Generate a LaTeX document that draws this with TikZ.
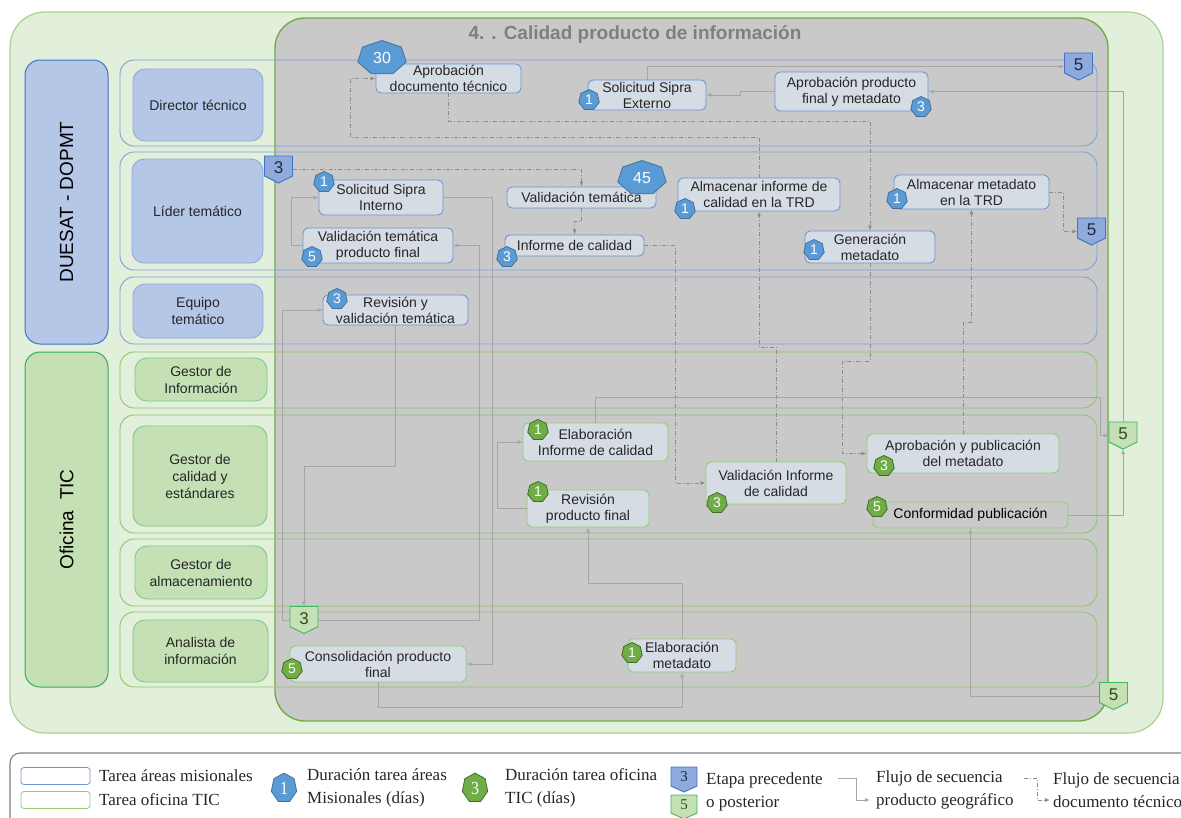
\documentclass[tikz,border=0pt]{standalone}
\usepackage{fontspec}
\usepackage{graphicx}
\setmainfont{Liberation Sans}
\newfontfamily\legendfont{Liberation Serif}
\usetikzlibrary{shapes.geometric,arrows.meta}

\definecolor{outerFill}{HTML}{E2EFDA}
\definecolor{outerLine}{HTML}{A9D18E}
\definecolor{poolFill}{HTML}{C9C9C9}
\definecolor{poolLine}{HTML}{70AD47}
\definecolor{titleGray}{HTML}{7F7F7F}
\definecolor{laneBlue}{HTML}{7F9FD8}
\definecolor{laneGreen}{HTML}{8DC66B}
\definecolor{groupBlueFill}{HTML}{B4C7E7}
\definecolor{groupBlueLine}{HTML}{4472C4}
\definecolor{groupGreenFill}{HTML}{C5E0B4}
\definecolor{groupGreenLine}{HTML}{2EAF5A}
\definecolor{roleBlueLine}{HTML}{8FAADC}
\definecolor{roleGreenLine}{HTML}{7DCB8A}
\definecolor{taskFill}{HTML}{D6DCE4}
\definecolor{taskBlue}{HTML}{6F93D3}
\definecolor{taskGreen}{HTML}{92CC72}
\definecolor{txtDark}{HTML}{262626}
\definecolor{badgeBlue}{HTML}{5B9BD5}
\definecolor{badgeBlueLine}{HTML}{41719C}
\definecolor{badgeGreen}{HTML}{70AD47}
\definecolor{badgeGreenLine}{HTML}{3F6F27}
\definecolor{stBfill}{HTML}{8FAADC}
\definecolor{stBline}{HTML}{4472C4}
\definecolor{stBtext}{HTML}{1F2A44}
\definecolor{stGfill}{HTML}{C5E0B4}
\definecolor{stGline}{HTML}{3CB85F}
\definecolor{stGtext}{HTML}{2E4A1E}
\definecolor{flowGray}{HTML}{A6A6A6}
\definecolor{docGray}{HTML}{8C8C8C}
\definecolor{legendLine}{HTML}{808080}

% stage marker: box with a pointed bottom; #1 name, #2 x, #3 y, #4 label, #5 colour prefix
\newcommand\stagemark[5]{%
  \filldraw[fill=#5fill, draw=#5line, line width=0.9pt]
    (#2,#3) ++(-14,-13.5) -- ++(28,0) -- ++(0,20) -- ++(-14,7) -- ++(-14,-7) -- cycle;
  \node[minimum width=28pt, minimum height=27pt, text=#5text,
        font=\fontsize{17}{17}\selectfont] (#1) at (#2,#3) {\raisebox{3.5pt}{#4}};
}

\begin{document}
\begin{tikzpicture}[x=1pt,y=-1pt,
  every node/.style={inner sep=0pt},
  task/.style={draw=taskBlue, fill=taskFill, rounded corners=5pt, align=center,
    font=\fontsize{14}{16}\selectfont, text=txtDark, line width=0.9pt},
  taskg/.style={task, draw=taskGreen},
  role/.style={draw=roleBlueLine, fill=groupBlueFill, rounded corners=12pt, align=center,
    font=\fontsize{14}{17}\selectfont, text=txtDark, line width=0.9pt},
  roleg/.style={role, draw=roleGreenLine, fill=groupGreenFill},
  badge/.style={regular polygon, regular polygon sides=7, minimum size=21pt,
    text=white, font=\fontsize{14}{14}\selectfont, line width=0.8pt},
  bb/.style={badge, fill=badgeBlue, draw=badgeBlueLine},
  bg/.style={badge, fill=badgeGreen, draw=badgeGreenLine},
  bigb/.style={bb, minimum size=35pt, xscale=1.42, font=\fontsize{16}{16}\selectfont},
  lane/.style={draw=laneBlue, line width=0.9pt, rounded corners=14pt},
  laneg/.style={lane, draw=laneGreen},
  flow/.style={draw=flowGray, line width=0.8pt, -{Latex[length=5pt,width=4pt]}},
  doc/.style={draw=docGray, line width=0.8pt, dash pattern=on 4pt off 2pt on 1pt off 2pt,
    -{Latex[length=5pt,width=4pt]}},
  legtext/.style={anchor=west, align=left, font=\legendfont\fontsize{17}{23}\selectfont, text=txtDark}
]
\useasboundingbox (0,0) rectangle (1181,817);

% background containers
\filldraw[fill=outerFill, draw=outerLine, line width=1.2pt, rounded corners=35pt]
  (10,12) rectangle (1163,733);
\filldraw[fill=poolFill, draw=poolLine, line width=1.4pt, rounded corners=30pt]
  (275,18) rectangle (1108,721);
\node[font=\bfseries\fontsize{19}{19}\selectfont, text=titleGray] (title) at (635,35)
  {4. . Calidad producto de información};

% organisational groups
\node[draw=groupBlueLine, fill=groupBlueFill, rounded corners=15pt, line width=1pt,
  minimum width=83pt, minimum height=284pt] (gDue) at (66.5,202) {};
\node[rotate=90, font=\fontsize{19}{19}\selectfont, text=black] (gDueT) at (66.5,202) {DUESAT - DOPMT};
\node[draw=groupGreenLine, fill=groupGreenFill, rounded corners=15pt, line width=1pt,
  minimum width=83pt, minimum height=335pt] (gTic) at (66.5,519.5) {};
\node[rotate=90, font=\fontsize{19}{19}\selectfont, text=black] (gTicT) at (66.5,519.5) {Oficina\ \ TIC};

% roles
\node[role, minimum width=130pt, minimum height=72pt] (rDir) at (198,105) {Director técnico};
\node[role, minimum width=131pt, minimum height=104pt] (rLid) at (197.5,211) {Líder temático};
\node[role, minimum width=130pt, minimum height=54pt] (rEqu) at (198,311) {Equipo\\temático};
\node[roleg, minimum width=132pt, minimum height=43pt] (rGInf) at (201,379.5) {Gestor de\\Información};
\node[roleg, minimum width=134pt, minimum height=100pt] (rGCal) at (200,476) {Gestor de\\calidad y\\estándares};
\node[roleg, minimum width=132pt, minimum height=53pt] (rGAlm) at (201,572.5) {Gestor de\\almacenamiento};
\node[roleg, minimum width=135pt, minimum height=62pt] (rAna) at (200.5,651) {Analista de\\información};

% lanes
\draw[lane]  (120,60)  rectangle (1097,146);
\draw[lane]  (120,152) rectangle (1097,270);
\draw[lane]  (120,277) rectangle (1097,344);
\draw[laneg] (120,352) rectangle (1097,408);
\draw[laneg] (120,415) rectangle (1097,533);
\draw[laneg] (120,539) rectangle (1097,606);
\draw[laneg] (120,612) rectangle (1097,687);

% tasks
\node[task, minimum width=145pt, minimum height=29pt] (adt) at (448.5,78.5) {Aprobación\\documento técnico};
\node[task, minimum width=118pt, minimum height=30pt] (sse) at (647,95) {Solicitud Sipra\\Externo};
\node[task, minimum width=153pt, minimum height=39pt] (apf) at (851.5,91.5) {Aprobación producto\\final y metadato};
\node[task, minimum width=124pt, minimum height=35pt] (ssi) at (381,197.5) {Solicitud Sipra\\Interno};
\node[task, minimum width=150pt, minimum height=35pt] (vtp) at (378,245.5) {Validación temática\\producto final};
\node[task, minimum width=149pt, minimum height=21pt] (vt) at (581.5,197.5) {Validación temática};
\node[task, minimum width=139pt, minimum height=21pt] (ic) at (574.5,245.5) {Informe de calidad};
\node[task, minimum width=162pt, minimum height=33pt] (ait) at (759,194.5) {Almacenar informe de\\calidad en la TRD};
\node[task, minimum width=155pt, minimum height=34pt] (amt) at (971.5,192) {Almacenar metadato\\en la TRD};
\node[task, minimum width=130pt, minimum height=32pt] (gm) at (870,247) {Generación\\metadato};
\node[task, minimum width=145pt, minimum height=30pt] (rvt) at (395.5,310) {Revisión y\\validación temática};
\node[taskg, minimum width=145pt, minimum height=38pt] (eic) at (595.5,442) {Elaboración\\Informe de calidad};
\node[taskg, minimum width=122pt, minimum height=37pt] (rpf) at (588,508.5) {Revisión\\producto final};
\node[taskg, minimum width=140pt, minimum height=42pt] (vic) at (776,483) {Validación Informe\\de calidad};
\node[taskg, minimum width=192pt, minimum height=39pt] (apm) at (963,453.5) {Aprobación y publicación\\del metadato};
\node[taskg, fill=none, text=black, minimum width=195pt, minimum height=26pt] (cp) at (970.5,515) {Conformidad publicación};
\node[taskg, minimum width=176pt, minimum height=36pt] (cpf) at (378,664) {Consolidación producto\\final};
\node[taskg, minimum width=108pt, minimum height=33pt] (em) at (682,655.5) {Elaboración\\metadato};

% product flow
\draw[flow] (apf.west) -- ++(-34,0) |- (sse.east);
\draw[flow] (vtp.west) -- ++(-11,0) |- (ssi.west);
\draw[flow] (ssi.east) -- ++(49,0) |- (cpf.east);
\draw[flow] (cpf.south) -- ++(0,25) -| (em.south);
\draw[flow] (em.north) -- ++(0,-55) -| (rpf.south);
\draw[flow] (rpf.west) -- ++(-29,0) |- (eic.west);

% document flow
\draw[doc] (vt.south) -- ++(0,13) -| (ic.north);
\draw[doc] (ic.east) -- ++(31,0) |- (vic.west);
\draw[doc] (vic.north) -- (776,347) -| (ait.south);
\draw[doc] (ait.north) |- (350,137) |- (adt.west);
\draw[doc] (adt.south) |- (870,121) -- (gm.north);
\draw[doc] (gm.south) -- (870,361) -- (842,361) |- (apm.west);
\draw[doc] (apm.north) -- (963,322) -| (amt.south);

% stage markers
\stagemark{s5a}{1078.5}{66.5}{5}{stB}
\stagemark{s3b}{278.5}{169.5}{3}{stB}
\stagemark{s5c}{1091.5}{231.5}{5}{stB}
\stagemark{s5g}{1123}{435.5}{5}{stG}
\stagemark{s3g}{304}{620}{3}{stG}
\stagemark{s5h}{1113.5}{696}{5}{stG}

% connectors touching stage markers
\draw[flow] (sse.north) |- (s5a.west);
\draw[flow] (s5g.north) |- (apf.east);
\draw[flow] (cp.east) -| (s5g.south);
\draw[flow] (eic.north) |- (1100,397) |- (s5g.west);
\draw[flow] (s3g.east) -- (479,620) |- (vtp.east);
\draw[flow] (s3g.west) -- (282,620) |- (rvt.west);
\draw[flow] (rvt.south) -- (395.5,466) -| (s3g.north);
\draw[flow] (s5h.west) -| (cp.south);
\draw[doc] (s3b.east) -| (vt.north);
\draw[doc] (amt.east) -- ++(14,0) |- (s5c.west);

% duration badges
\node[bigb] (kAdt) at (382,58) {\scalebox{0.7}[1]{30}};
\node[bb] (kSse) at (589,100) {1};
\node[bb] (kApf) at (921,107) {3};
\node[bb] (kSsi) at (324,182) {1};
\node[bb] (kVtp) at (312,257) {5};
\node[bigb] (kVt) at (642,178) {\scalebox{0.7}[1]{45}};
\node[bb] (kIc) at (507,257) {3};
\node[bb] (kAit) at (685,209) {1};
\node[bb] (kAmt) at (897,199) {1};
\node[bb] (kGm) at (814,250) {1};
\node[bb] (kRvt) at (337,299) {3};
\node[bg] (kEic) at (538,430) {1};
\node[bg] (kRpf) at (538,492) {1};
\node[bg] (kVic) at (717,503) {3};
\node[bg] (kApm) at (884,466) {3};
\node[bg] (kCp) at (877,507) {5};
\node[bg] (kCpf) at (292,669) {5};
\node[bg] (kEm) at (632,653) {1};

% legend
\draw[legendLine, line width=1.1pt, rounded corners=10pt] (1185,753) -- (10,753) -- (10,822);
\node[draw=taskBlue, rounded corners=3pt, line width=0.8pt, minimum width=69pt, minimum height=17pt] (lgBox1) at (55.5,776) {};
\node[legtext] (lgT1) at (99,776) {Tarea áreas misionales};
\node[draw=taskGreen, rounded corners=3pt, line width=0.8pt, minimum width=69pt, minimum height=17pt] (lgBox2) at (55.5,800) {};
\node[legtext] (lgT2) at (99,800) {Tarea oficina TIC};
\node[bb, minimum size=26pt, yscale=1.15, font=\legendfont\fontsize{16}{16}\selectfont] (lgK1) at (284,788) {1};
\node[legtext] (lgT3) at (307,788) {Duración tarea áreas\\Misionales (días)};
\node[bg, minimum size=26pt, yscale=1.15, font=\legendfont\fontsize{16}{16}\selectfont] (lgK2) at (475,788) {3};
\node[legtext] (lgT4) at (505,788) {Duración tarea oficina\\TIC (días)};
\filldraw[fill=stBfill, draw=stBline, line width=0.9pt]
  (671,767) -- (697,767) -- (697,786) -- (684,792) -- (671,786) -- cycle;
\node[font=\legendfont\fontsize{15}{15}\selectfont, text=stBtext] (lgS1) at (684,777) {3};
\filldraw[fill=stGfill, draw=stGline, line width=0.9pt]
  (671,795) -- (697,795) -- (697,813) -- (684,819) -- (671,813) -- cycle;
\node[font=\legendfont\fontsize{15}{15}\selectfont, text=stGtext] (lgS2) at (684,805) {5};
\node[legtext] (lgT5) at (706,792) {Etapa precedente\\o posterior};
\coordinate (lgA1) at (838,778);
\coordinate (lgA2) at (870,800);
\draw[flow] (lgA1) -- (856,778) |- (lgA2);
\node[legtext] (lgT6) at (876,790) {Flujo de secuencia\\producto geográfico};
\coordinate (lgD1) at (1024,778);
\coordinate (lgD2) at (1050,800);
\draw[doc] (lgD1) -- (1037,778) |- (lgD2);
\node[legtext] (lgT7) at (1053,790) {Flujo de secuencia\\documento técnico};
\end{tikzpicture}
\end{document}
